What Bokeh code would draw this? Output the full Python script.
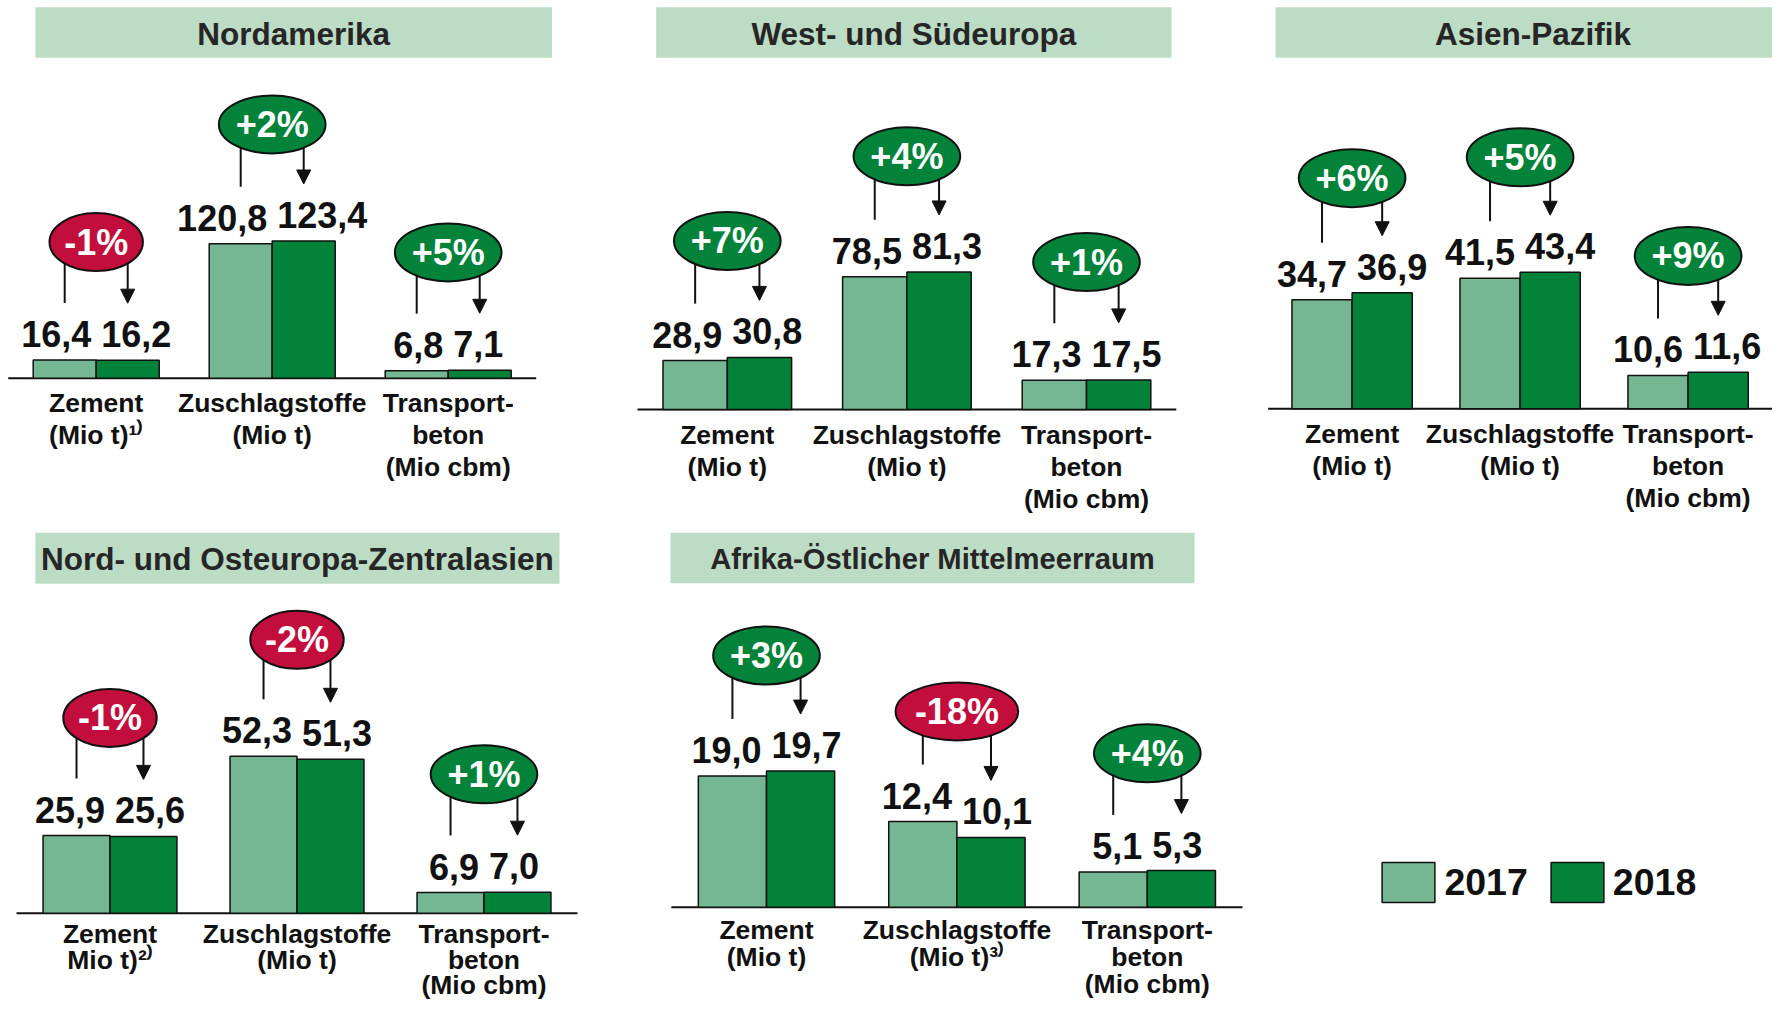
import numpy as np
from bokeh.plotting import figure
from bokeh.models import (Range1d, ColumnDataSource, Arrow, NormalHead, Legend,
                          LegendItem)
from bokeh.embed import file_html
from bokeh.resources import INLINE
from bokeh.core.properties import value

# ---------------- data ----------------
categories = ["Zement", "Zuschlagstoffe", "Transportbeton"]
years = ["2017", "2018"]
regions = ["Nordamerika", "West- und Südeuropa", "Asien-Pazifik",
           "Nord- und Osteuropa-Zentralasien", "Afrika-Östlicher Mittelmeerraum"]

na_2017 = [16.4, 120.8, 6.8]
na_2018 = [16.2, 123.4, 7.1]
na_change = ["-1%", "+2%", "+5%"]
na_labels = ["Zement\n(Mio t)¹⁾", "Zuschlagstoffe\n(Mio t)", "Transport-\nbeton\n(Mio cbm)"]

wse_2017 = [28.9, 78.5, 17.3]
wse_2018 = [30.8, 81.3, 17.5]
wse_change = ["+7%", "+4%", "+1%"]
wse_labels = ["Zement\n(Mio t)", "Zuschlagstoffe\n(Mio t)", "Transport-\nbeton\n(Mio cbm)"]

ap_2017 = [34.7, 41.5, 10.6]
ap_2018 = [36.9, 43.4, 11.6]
ap_change = ["+6%", "+5%", "+9%"]
ap_labels = ["Zement\n(Mio t)", "Zuschlagstoffe\n(Mio t)", "Transport-\nbeton\n(Mio cbm)"]

noz_2017 = [25.9, 52.3, 6.9]
noz_2018 = [25.6, 51.3, 7.0]
noz_change = ["-1%", "-2%", "+1%"]
noz_labels = ["Zement\nMio t)²⁾", "Zuschlagstoffe\n(Mio t)", "Transport-\nbeton\n(Mio cbm)"]

afr_2017 = [19.0, 12.4, 5.1]
afr_2018 = [19.7, 10.1, 5.3]
afr_change = ["+3%", "-18%", "+4%"]
afr_labels = ["Zement\n(Mio t)", "Zuschlagstoffe\n(Mio t)³⁾", "Transport-\nbeton\n(Mio cbm)"]

# ---------------- styles / layout ----------------
W, H = 1772, 999
FONT = "Liberation Sans"
C17 = "#76B793"
C18 = "#03823A"
CTITLE = "#BDDCC5"
CUP = "#03823A"
CDOWN = "#C20E3C"
INK = "#111111"
BW = 0.358  # bar width as fraction of a category slot

# per panel: slot left (px), slot width (px), baseline y (px), px per unit,
# title box (left, right, top, bottom in px), title font size,
# category label anchor offset (px below baseline) and line height factor
layout = [
    dict(L=7.7, u=176.0, B=377.7, s=1.112, box=(34.8, 551.5, 6.7, 57.3), ts="31.5px", lo=10.2, lh=1.064),
    dict(L=637.0, u=179.6, B=409.0, s=1.692, box=(655.7, 1171.0, 6.7, 57.3), ts="31.5px", lo=10.2, lh=1.064),
    dict(L=1267.6, u=168.0, B=408.3, s=3.146, box=(1275.0, 1790.0, 6.7, 57.3), ts="31.5px", lo=10.2, lh=1.064),
    dict(L=16.0, u=187.0, B=912.7, s=3.0, box=(34.8, 559.0, 532.3, 583.3), ts="31.5px", lo=6.0, lh=0.85),
    dict(L=670.8, u=190.4, B=906.7, s=6.91, box=(670.0, 1194.0, 532.3, 582.7), ts="29.2px", lo=8.0, lh=0.9),
]
series = [
    (na_2017, na_2018, na_change, na_labels),
    (wse_2017, wse_2018, wse_change, wse_labels),
    (ap_2017, ap_2018, ap_change, ap_labels),
    (noz_2017, noz_2018, noz_change, noz_labels),
    (afr_2017, afr_2018, afr_change, afr_labels),
]

ADV = {"+": 0.584, "-": 0.333, "%": 0.889}


def text_em(t):
    return sum(ADV.get(ch, 0.556) for ch in t)


def de(v):
    return f"{v:.1f}".replace(".", ",")


p = figure(width=W, height=H, x_range=Range1d(0, W), y_range=Range1d(H, 0),
           x_axis_type=None, y_axis_type=None, toolbar_location=None,
           output_backend="svg", min_border=0, outline_line_color=None)
p.background_fill_color = "white"
p.border_fill_color = "white"

# title bars
tsrc = ColumnDataSource(dict(
    left=[d["box"][0] for d in layout], right=[d["box"][1] for d in layout],
    top=[d["box"][2] for d in layout], bottom=[d["box"][3] for d in layout],
    xc=[(d["box"][0] + d["box"][1]) / 2 for d in layout],
    yc=[(d["box"][2] + d["box"][3]) / 2 + 1 for d in layout],
    ts=[d["ts"] for d in layout], name=regions))
p.quad(left="left", right="right", top="top", bottom="bottom", source=tsrc,
       fill_color=CTITLE, line_color=None)
p.text(x="xc", y="yc", text="name", source=tsrc, text_align="center",
       text_baseline="middle", text_font=value(FONT), text_font_style="bold",
       text_font_size="ts", text_color="#262626")

xranges, yranges = {}, {}
bar_renderers = []
for i, (d, (v17, v18, chg, labs)) in enumerate(zip(layout, series)):
    xn, yn = f"x{i}", f"y{i}"
    L, u, B, s = d["L"], d["u"], d["B"], d["s"]
    xranges[xn] = Range1d(-L / u, (W - L) / u)
    yranges[yn] = Range1d(-(H - B) / s, B / s)
    v17a, v18a = np.array(v17), np.array(v18)
    c = np.arange(len(categories)) + 0.5
    src = ColumnDataSource(dict(
        c=c, x17=c - BW / 2, x18=c + BW / 2, v17=v17a, v18=v18a,
        l17=[de(v) for v in v17], l18=[de(v) for v in v18],
        ly17=v17a + 26 / s, ly18=v18a + 26 / s,
        e17=v17a + 57 / s, e18=v18a + 57 / s,
        ey=(v17a + v18a) / 2 + 118 / s,
        ew=[1.46 * 36 * text_em(t) for t in chg],
        ecol=[CDOWN if t.startswith("-") else CUP for t in chg],
        chg=chg, lab=labs, ly=np.full(3, -d["lo"] / s)))
    kw = dict(source=src, x_range_name=xn, y_range_name=yn)

    # baseline
    p.segment(x0=c[0] - 0.5, y0=0, x1=c[-1] + 0.5, y1=0, line_color=INK,
              line_width=2, x_range_name=xn, y_range_name=yn)
    # bars
    r17 = p.vbar(x="x17", top="v17", bottom=0, width=BW, fill_color=C17,
                 line_color=INK, line_width=1.5, **kw)
    r18 = p.vbar(x="x18", top="v18", bottom=0, width=BW, fill_color=C18,
                 line_color=INK, line_width=1.5, **kw)
    bar_renderers.append((r17, r18))
    # value labels
    p.text(x="c", y="ly17", text="l17", text_align="right", x_offset=-5,
           text_baseline="middle", text_font=value(FONT),
           text_font_style="bold", text_font_size="36px", text_color=INK, **kw)
    p.text(x="c", y="ly18", text="l18", text_align="left", x_offset=5,
           text_baseline="middle", text_font=value(FONT),
           text_font_style="bold", text_font_size="36px", text_color=INK, **kw)
    # connector line (2017) and arrow (2018)
    p.segment(x0="x17", y0="ey", x1="x17", y1="e17", line_color=INK,
              line_width=2, **kw)
    arrow = Arrow(end=NormalHead(size=14, fill_color=INK, line_color=INK),
                  x_start="x18", y_start="ey", x_end="x18", y_end="e18",
                  source=src, line_color=INK, line_width=2,
                  x_range_name=xn, y_range_name=yn, level="underlay")
    p.add_layout(arrow)
    # change ellipses
    p.ellipse(x="c", y="ey", width="ew", height=58, width_units="screen",
              height_units="screen", fill_color="ecol", line_color=INK,
              line_width=2, **kw)
    p.text(x="c", y="ey", text="chg", text_align="center",
           text_baseline="middle", text_font=value(FONT),
           text_font_style="bold", text_font_size="36px", text_color="white",
           **kw)
    # category labels
    p.text(x="c", y="ly", text="lab", text_align="center", text_baseline="top",
           text_font=value(FONT), text_font_style="bold",
           text_font_size="26.5px", text_line_height=d["lh"], text_color=INK,
           **kw)

p.extra_x_ranges = xranges
p.extra_y_ranges = yranges

legend = Legend(items=[LegendItem(label=years[0], renderers=[bar_renderers[0][0]]),
                       LegendItem(label=years[1], renderers=[bar_renderers[0][1]])],
                location=(1375.4, H - 907.3), orientation="horizontal",
                glyph_width=66, glyph_height=50, label_standoff=3, spacing=16,
                padding=0, margin=0, border_line_color=None,
                background_fill_alpha=0, label_text_font=FONT,
                label_text_font_style="bold", label_text_font_size="37.5px",
                label_text_color=INK)
p.add_layout(legend)

open("out.html", "w").write(file_html(p, INLINE))
